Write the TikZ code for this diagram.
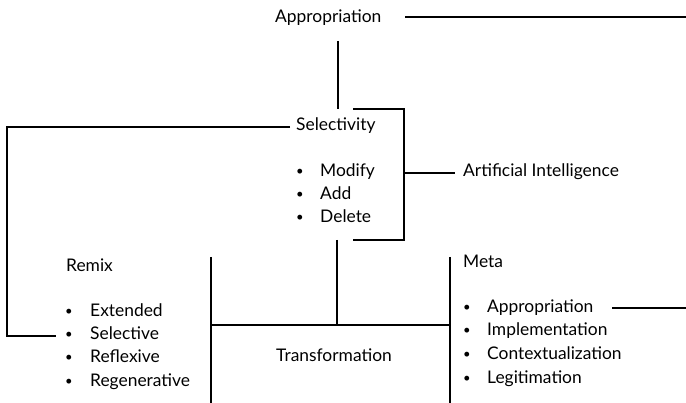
\documentclass[tikz,border=0pt]{standalone}
\usepackage{fontspec}
\setmainfont{Lato}
\begin{document}
\begin{tikzpicture}[x=1pt,y=-1pt,
  conn/.style={line width=2pt, line join=miter},
  lbl/.style={inner sep=0pt, anchor=base west, font=\fontsize{17.4}{20}\selectfont},
  bul/.style={inner sep=0pt, anchor=base, font=\fontsize{13}{15}\selectfont}]
\useasboundingbox (0,0) rectangle (686,403);
% texts
\node[lbl] (appr) at (275,23) {Appropriation};
\node[lbl] (sel) at (296,131) {Selectivity};
\node[bul] (b1) at (300,176) {•};
\node[bul] (b2) at (300,199) {•};
\node[bul] (b3) at (300,222) {•};
\node[lbl] (mod) at (320,177) {Modify};
\node[lbl] (add) at (320,200) {Add};
\node[lbl] (del) at (320,223) {Delete};
\node[lbl] (ai) at (463,177) {Artificial Intelligence};
\node[lbl] (remix) at (66,272) {Remix};
\node[bul] (r1b) at (69,316) {•};
\node[bul] (r2b) at (69,339) {•};
\node[bul] (r3b) at (69,362) {•};
\node[bul] (r4b) at (69,386) {•};
\node[lbl] (r1) at (90,317) {Extended};
\node[lbl] (r2) at (90,340) {Selective};
\node[lbl] (r3) at (90,363) {Reflexive};
\node[lbl] (r4) at (90,387) {Regenerative};
\node[lbl] (trans) at (276,362) {Transformation};
\node[lbl] (meta) at (463,268) {Meta};
\node[bul] (m1b) at (467,312) {•};
\node[bul] (m2b) at (467,335) {•};
\node[bul] (m3b) at (467,359) {•};
\node[bul] (m4b) at (467,383) {•};
\node[lbl] (m1) at (487,313) {Appropriation};
\node[lbl] (m2) at (487,336) {Implementation};
\node[lbl] (m3) at (487,360) {Contextualization};
\node[lbl] (m4) at (487,384) {Legitimation};
% connector ends
\coordinate (t1) at (405,17);
\coordinate (t2) at (686,17);
\coordinate (v1) at (338,41);
\coordinate (v2) at (338,109);
\coordinate (k1) at (353,109);
\coordinate (k2) at (404,109);
\coordinate (k3) at (404,240);
\coordinate (k4) at (353,240);
\coordinate (a1) at (404,173);
\coordinate (a2) at (455,173);
\coordinate (s1) at (290,127);
\coordinate (s2) at (7,127);
\coordinate (s3) at (7,336);
\coordinate (s4) at (56,336);
\coordinate (c1) at (337,240);
\coordinate (c2) at (337,325);
\coordinate (l1) at (211,257);
\coordinate (l2) at (211,403);
\coordinate (r1c) at (450,257);
\coordinate (r2c) at (450,403);
\coordinate (h1) at (211,325);
\coordinate (h2) at (450,325);
\coordinate (p1) at (612,308);
\coordinate (p2) at (686,308);
% connectors
\draw[conn] (t1) -- (t2);
\draw[conn] (v1) -- (v2);
\draw[conn] (k1) -- (k2) -- (k3) -- (k4);
\draw[conn] (a1) -- (a2);
\draw[conn] (s1) -- (s2) -- (s3) -- (s4);
\draw[conn] (c1) -- (c2);
\draw[conn] (l1) -- (l2);
\draw[conn] (r1c) -- (r2c);
\draw[conn] (h1) -- (h2);
\draw[conn] (p1) -- (p2);
\end{tikzpicture}
\end{document}
